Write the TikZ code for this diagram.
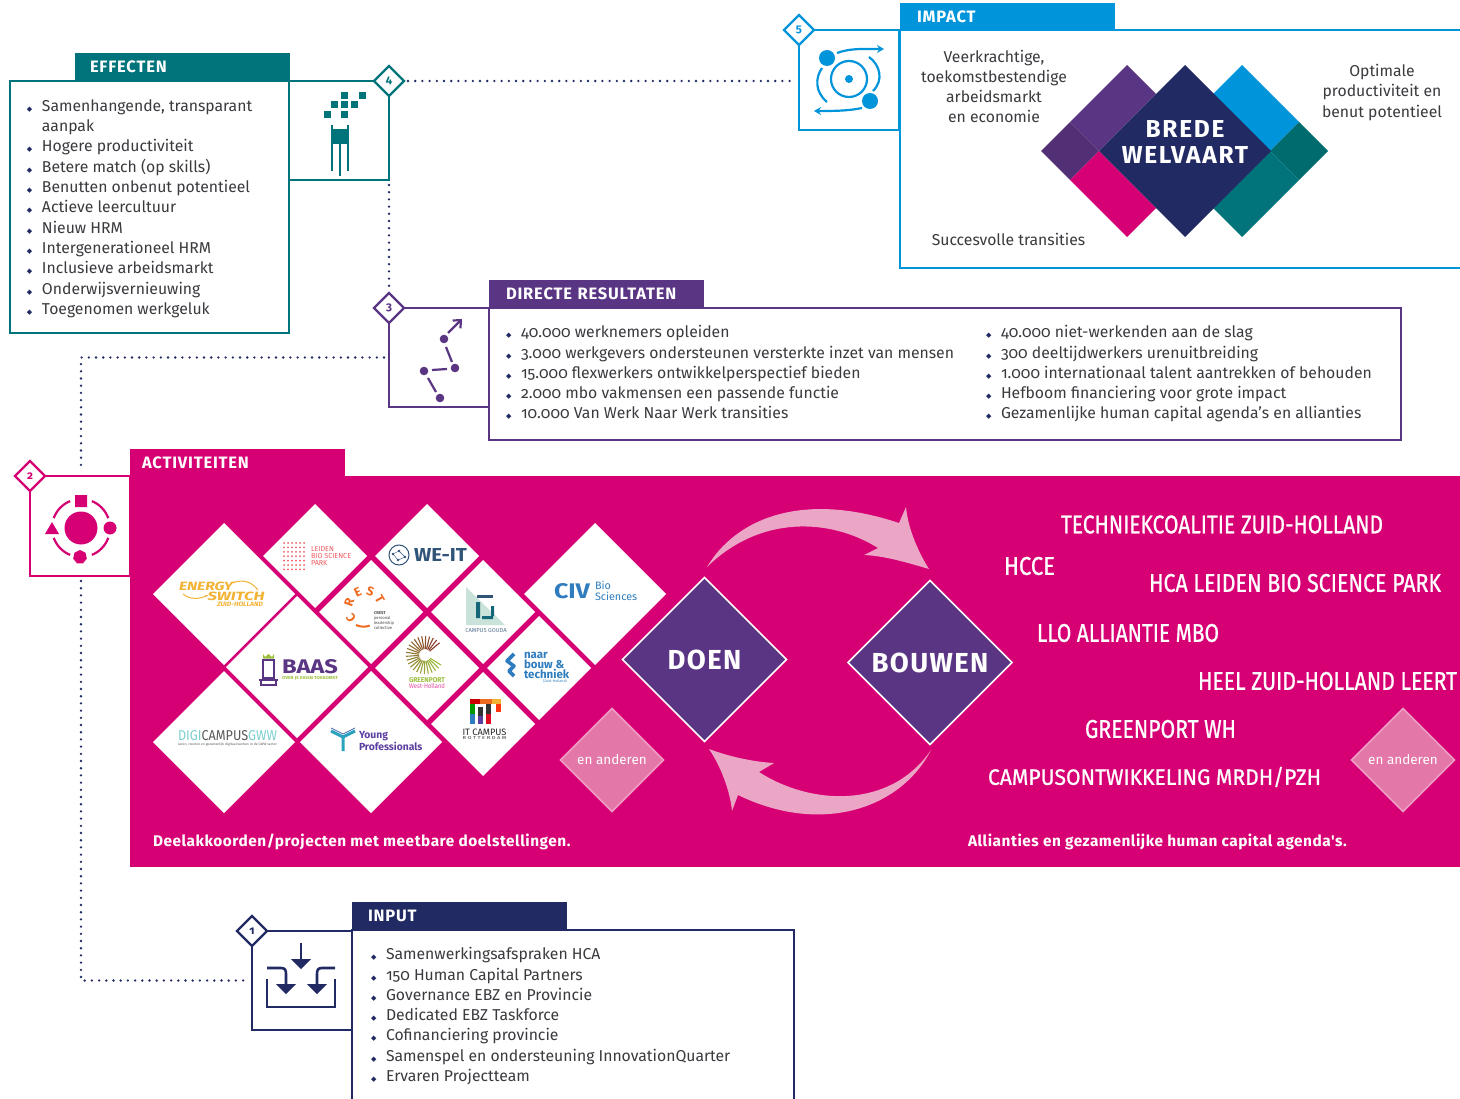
\documentclass[tikz,border=0pt]{standalone}
\usepackage{fontspec}
\usepackage{graphicx}
\setmainfont{Fira Sans}[Numbers=OldStyle]
\newfontfamily\hdf{Fira Sans}[LetterSpace=5]
\newfontfamily\wbf{Fira Sans}[LetterSpace=3.4]
\newfontfamily\wlf{Fira Sans}[LetterSpace=7]
\newfontfamily\condf{Fira Sans}[FakeBold=0.9]
\newfontfamily\dvf{DejaVu Sans}
\usetikzlibrary{arrows.meta,shapes.geometric,calc}
\definecolor{teal1}{HTML}{00747A}
\definecolor{teal2}{HTML}{006B6E}
\definecolor{blue1}{HTML}{0095DB}
\definecolor{purp1}{HTML}{5A3583}
\definecolor{purp2}{HTML}{532F75}
\definecolor{pink1}{HTML}{D60074}
\definecolor{navy1}{HTML}{212A63}
\definecolor{txt}{HTML}{3A3A3F}
\definecolor{apink}{HTML}{EBA6C6}
\definecolor{anfill}{HTML}{E377A8}
\definecolor{anline}{HTML}{EC9EC4}
\definecolor{ored}{HTML}{EE6A1F}
\definecolor{lred}{HTML}{EE5A5F}
\definecolor{ylw}{HTML}{F2B234}
\definecolor{wblue}{HTML}{2F5478}
\definecolor{cblue}{HTML}{2F7DBE}
\definecolor{ggreen}{HTML}{9CBF3C}
\definecolor{gbrown}{HTML}{8A3A2A}
\definecolor{ltgrn}{HTML}{C9E3DA}
\definecolor{ypurp}{HTML}{5B3FA0}
\definecolor{yteal}{HTML}{2AA3BE}
\definecolor{dteal}{HTML}{7CCFD0}
\newcommand\bul{\makebox[15pt][l]{\textcolor{navy1}{\dvf\fontsize{7}{7}\selectfont ◆}}}
\newcommand\nobul{\hspace*{15pt}}
\tikzset{
  x=1pt,y=-1pt,outer sep=0pt,
  listnode/.style={anchor=north west,inner sep=0pt,align=left,text=txt,font=\fontsize{15.75}{20.3}\selectfont},
  ctrnode/.style={inner sep=0pt,align=center,text=txt,font=\fontsize{15.75}{20.3}\selectfont},
  header/.style={anchor=north west,minimum width=215pt,minimum height=28pt,text width=215pt,inner sep=0pt,text=white,font=\hdf\bfseries\fontsize{16.5}{18}\selectfont,align=left},
  iconbox/.style={draw,line width=2.4pt,fill=white,minimum width=100pt,minimum height=99pt,inner sep=0pt},
  numdia/.style={diamond,draw,line width=2.4pt,fill=white,minimum width=30pt,minimum height=30pt,inner sep=0pt,font=\bfseries\fontsize{11.5}{12}\selectfont},
  dots/.style={navy1,line width=2.6pt,line cap=round,dash pattern=on 0pt off 7.2pt},
  lgdia/.style={diamond,fill=white,inner sep=0pt,aspect=1,minimum width=142pt,minimum height=142pt},
  smdia/.style={diamond,fill=white,inner sep=0pt,aspect=1,minimum width=104pt,minimum height=104pt},
  andia/.style={diamond,fill=anfill,draw=anline,line width=1.5pt,inner sep=0pt,minimum width=103pt,minimum height=103pt,text=white,font=\fontsize{13.5}{14}\selectfont},
  actdia/.style={diamond,fill=purp1,draw=white,line width=1.5pt,inner sep=0pt,minimum width=164pt,minimum height=164pt,text=white,font=\hdf\bfseries\fontsize{27.5}{28}\selectfont},
  condnode/.style={anchor=west,inner sep=0pt,text=white},
  whitebold/.style={anchor=west,inner sep=0pt,text=white,font=\wbf\bfseries\fontsize{15.4}{16}\selectfont},
  tiny/.style={inner sep=0pt,align=left}
}
\newcommand\cond[2]{\resizebox{#1pt}{18pt}{\condf #2}}
\begin{document}
\begin{tikzpicture}
\useasboundingbox (0,0) rectangle (1460,1099);
\fill[white] (0,0) rectangle (1460,1099);

% ---------- icon boxes and number diamonds
\node[iconbox,draw=teal1,anchor=north west] (icon4) at (289,81) {};
\node[iconbox,draw=blue1,anchor=north west,minimum height=100pt] (icon5) at (799,30) {};
\node[iconbox,draw=purp1,anchor=north west] (icon3) at (389,308) {};
\node[iconbox,draw=pink1,anchor=north west,minimum height=100pt] (icon2) at (30,476) {};
\node[iconbox,draw=navy1,anchor=north west] (icon1) at (252,931) {};
\node[numdia,draw=teal1,text=teal1] (d4) at (389,81) {4};
\node[numdia,draw=blue1,text=blue1] (d5) at (799,30) {5};
\node[numdia,draw=purp1,text=purp1] (d3) at (389,308) {3};
\node[numdia,draw=pink1,text=pink1] (d2) at (30,476) {2};
\node[numdia,draw=navy1,text=navy1] (d1) at (252,931) {1};
\draw[dots,shorten <=4pt,shorten >=4pt] (d4.east) -- (d4.east -| icon5.west);
\draw[dots,shorten <=5pt,shorten >=4pt] (icon4.south east) -- (d3.north);
\draw[dots,shorten <=5pt,shorten >=6pt] (icon3.west) -| (81,476);
\draw[dots,shorten <=5pt,shorten >=6pt] (81,576) |- (icon1.west);

% ---------- EFFECTEN
\node[draw=teal1,line width=2.4pt,fill=white,anchor=north west,minimum width=279pt,minimum height=252pt,inner sep=0pt] (effbox) at (10,81) {};
\node[header,fill=teal1] (effhead) at (75,53) {\hspace*{15pt}EFFECTEN};
\node[listnode] (efflist) at (27,99.5) {\bul Samenhangende, transparant\\\nobul aanpak\\\bul Hogere productiviteit\\\bul Betere match (op skills)\\\bul Benutten onbenut potentieel\\\bul Actieve leercultuur\\\bul Nieuw HRM\\\bul Intergenerationeel HRM\\\bul Inclusieve arbeidsmarkt\\\bul Onderwijsvernieuwing\\\bul Toegenomen werkgeluk};
% effect icon
\foreach \cx/\cy in {344/96,362/96,334/105,344/105,354/105,327/115,344/115}
  \fill[teal1] (\cx-3.5,\cy-3.5) rectangle (\cx+3.5,\cy+3.5);
\fill[teal1] (331,129) rectangle (348,144);
\draw[teal1,line width=1.6pt] (332,125) -- (332,171) (348,125) -- (348,171) (340,144) -- (340,176);

% ---------- IMPACT
\draw[blue1,line width=2.4pt,fill=white] (1460,30) -- (900,30) -- (900,268) -- (1460,268);
\node[header,fill=blue1,minimum height=27pt] (imphead) at (900,3) {\hspace*{17pt}IMPACT};
% impact icon
\fill[blue1] (827,58) circle[radius=8pt] (870,101) circle[radius=8pt] (849,79) circle[radius=4pt];
\draw[blue1,line width=2.2pt] (849,79) circle[radius=18pt];
\draw[blue1,line width=2.2pt,-{Stealth[length=7pt,width=8pt]}] (837,53) .. controls (850,48) and (865,49) .. (884,49);
\draw[blue1,line width=2.2pt,-{Stealth[length=7pt,width=8pt]}] (862,108) .. controls (848,111) and (833,111) .. (814,111);
\draw[blue1,line width=2.2pt] (822,68) .. controls (815,78) and (815,92) .. (827,102);
\draw[blue1,line width=2.2pt] (869,57) .. controls (880,65) and (884,80) .. (873,91);
% brede welvaart
\fill[purp1] (1070,122) -- (1127,65) -- (1156,94) -- (1099,151) -- cycle;
\fill[purp2] (1041,151) -- (1070,122) -- (1099,151) -- (1070,180) -- cycle;
\fill[pink1] (1099,151) -- (1070,180) -- (1127,237) -- (1156,208) -- cycle;
\fill[blue1] (1213,94) -- (1242,65) -- (1299,122) -- (1270,151) -- cycle;
\fill[teal2] (1270,151) -- (1299,122) -- (1328,151) -- (1299,180) -- cycle;
\fill[teal1] (1270,151) -- (1299,180) -- (1242,237) -- (1213,208) -- cycle;
\node[diamond,fill=navy1,inner sep=0pt,minimum width=172pt,minimum height=172pt] (welv) at (1185,151) {};
\node[inner sep=0pt,text=white,align=center,font=\wlf\bfseries\fontsize{24.5}{25.5}\selectfont] (welvt) at (1185,142) {BREDE\\WELVAART};
\node[ctrnode] (imp1) at (994,86.5) {Veerkrachtige,\\toekomstbestendige\\arbeidsmarkt\\en economie};
\node[ctrnode] (imp2) at (1382,92.5) {Optimale\\productiviteit en\\benut potentieel};
\node[ctrnode] (imp3) at (1008.5,239) {Succesvolle transities};

% ---------- DIRECTE RESULTATEN
\node[draw=purp1,line width=2.4pt,fill=white,anchor=north west,minimum width=912pt,minimum height=132pt,inner sep=0pt] (dirbox) at (489,308) {};
\node[header,fill=purp1] (dirhead) at (489,280) {\hspace*{17pt}DIRECTE RESULTATEN};
\node[listnode] (dirl1) at (506,325.5) {\bul 40.000 werknemers opleiden\\\bul 3.000 werkgevers ondersteunen versterkte inzet van mensen\\\bul 15.000 flexwerkers ontwikkelperspectief bieden\\\bul 2.000 mbo vakmensen een passende functie\\\bul 10.000 Van Werk Naar Werk transities};
\node[listnode] (dirl2) at (986,325.5) {\bul 40.000 niet-werkenden aan de slag\\\bul 300 deeltijdwerkers urenuitbreiding\\\bul 1.000 internationaal talent aantrekken of behouden\\\bul Hefboom financiering voor grote impact\\\bul Gezamenlijke human capital agenda's en allianties};
% icon 3
\fill[purp1] (444,339) circle[radius=4.3pt] (455,368) circle[radius=4.3pt] (424,371) circle[radius=4.3pt] (440,398) circle[radius=4.3pt];
\draw[purp1,line width=2.2pt,-{Straight Barb[length=6pt,width=11pt]}] (448,333) -- (462,319);
\draw[purp1,line width=2.2pt] (446,347) -- (452,362) (432,370) -- (447,369) (428,378) -- (436,392);

% ---------- ACTIVITEITEN
\fill[pink1] (130,476) rectangle (1460,867);
\node[header,fill=pink1] (acthead) at (130,449) {\hspace*{12pt}ACTIVITEITEN};
% icon 2
\fill[pink1] (81,528) circle[radius=16.5pt] (110,528) circle[radius=6.5pt] (75,495) rectangle (87,507);
\fill[pink1] (52,522) -- (59,534) -- (45,534) -- cycle;
\node[regular polygon,regular polygon sides=7,fill=pink1,minimum size=14pt,inner sep=0pt] (hept) at (80,557) {};
\foreach \a/\b in {20/68,112/160,200/248,292/340}
  \draw[pink1,line width=2.2pt] ({81+29*cos(\a)},{528-29*sin(\a)}) arc[start angle=\a,end angle=\b,radius=29pt];

% logo diamonds
\node[lgdia] (energy) at (224,594) {};
\node[smdia] (leiden) at (315,556) {};
\node[smdia] (weit) at (427,556) {};
\node[smdia] (crest) at (371,612) {};
\node[smdia] (gouda) at (483,612) {};
\node[lgdia] (civ) at (595,594) {};
\node[lgdia] (baas) at (297,667) {};
\node[smdia] (greenp) at (427,668) {};
\node[smdia] (bouw) at (539,668) {};
\node[smdia] (itc) at (483,724) {};
\node[lgdia] (digi) at (224,742) {};
\node[lgdia] (young) at (371,742) {};

% energy switch logo
\node[tiny,text=ylw] (en1) at (206,586) {\resizebox{54pt}{8.5pt}{\bfseries\itshape ENERGY}};
\node[tiny,text=ylw] (en2) at (236,596) {\resizebox{57pt}{8.5pt}{\bfseries\itshape SWITCH}};
\node[tiny,text=ylw] (en3) at (240,604) {\resizebox{46pt}{4.5pt}{\bfseries\itshape ZUID-HOLLAND}};
\draw[ylw,line width=1pt,-{Stealth[length=3pt]}] (258,590) .. controls (250,580) and (242,580) .. (232,583);
\draw[ylw,line width=1pt,-{Stealth[length=3pt]}] (183,594) .. controls (190,600) and (200,599) .. (208,595);
% leiden logo
\foreach \i in {0,...,5} \foreach \j in {0,...,6}
  \fill[lred] (284+\i*4,543+\j*4.4) circle[radius=1pt];
\node[tiny,text=lred,font=\fontsize{7.2}{7.3}\selectfont,anchor=west] (leidt) at (311,556) {LEIDEN\\BIO SCIENCE\\PARK};
% we-it logo
\draw[wblue,line width=1pt] (399,555) circle[radius=10pt];
\fill[wblue] (393,554) circle[radius=1.3pt] (399,551) circle[radius=1.3pt] (405,557) circle[radius=1.3pt] (398,560) circle[radius=1.3pt];
\draw[wblue,line width=.4pt] (393,554) -- (399,551) -- (405,557) -- (398,560) -- cycle;
\node[tiny,text=wblue,anchor=west] (weitt) at (414,555) {\resizebox{53pt}{13pt}{\bfseries WE-IT}};
% crest logo
\foreach \l/\a/\n in {C/215/1,R/160/2,E/115/3,S/72/4,T/30/5}
  \node[text=ored,inner sep=0pt,font=\bfseries\fontsize{12.5}{13}\selectfont,rotate=\a-90] (cr\n) at ({365+17*cos(\a)},{608-17*sin(\a)}) {\l};
\draw[ored,line width=2pt] (356,625) arc[start angle=245,end angle=290,radius=18pt];
\node[tiny,text=black!70,anchor=north west,font=\fontsize{4.2}{4.7}\selectfont] (crt) at (374,612) {\textbf{CREST}\\personal\\leadership\\collective};
% campus gouda
\fill[ltgrn] (466,587) -- (466,625) -- (505,625) -- cycle;
\fill[wblue] (477,595) -- (493,595) -- (493,598) -- (477,598) -- cycle;
\fill[teal1!60!wblue] (476,602) rectangle (480,618) (482,616) rectangle (493,619) (491,606) rectangle (494,616);
\node[tiny,text=wblue!80,font=\fontsize{5.8}{6}\selectfont] (goudat) at (486,631) {CAMPUS GOUDA};
% civ
\node[tiny,text=cblue,anchor=west] (civt) at (554,591) {\resizebox{36pt}{15pt}{\bfseries CIV}};
\node[tiny,text=cblue,anchor=west,font=\fontsize{10.8}{10.5}\selectfont] (civb) at (595,591) {Bio\\Sciences};
% baas
\draw[purp1,line width=1.3pt] (263,660) rectangle (274,678) (259,680) -- (278,680) (261,680) -- (261,686) (276,680) -- (276,686) (261,685) -- (276,685);
\fill[ggreen] (263,654) -- (265,657) -- (268.5,654) -- (272,657) -- (274,654) -- (274,658.5) -- (263,658.5) -- cycle;
\node[tiny,text=purp1,anchor=west] (baast) at (282,666.5) {\resizebox{56pt}{14pt}{\bfseries BAAS}};
\node[tiny,text=ggreen,anchor=west] (baass) at (282,678) {\resizebox{56pt}{3pt}{\bfseries OVER JE EIGEN TOEKOMST}};
% greenport
\foreach \a in {40,52,...,330}{
  \pgfmathsetmacro\p{(\a-40)/2.9}
  \draw[ggreen!\p!gbrown,line width=1.1pt] ({425+6*cos(\a)},{655-6*sin(\a)}) -- ({425+19*cos(\a)},{655-19*sin(\a)});
}
\node[tiny,text=ggreen,anchor=center] (gpa) at (427,680) {\resizebox{36pt}{5pt}{\bfseries GREENPORT}};
\node[tiny,text=pink1!70,anchor=center] (gpb) at (427,686.5) {\resizebox{36pt}{5pt}{West-Holland}};
% naar bouw
\draw[cblue,line width=3.6pt,line join=round] (514,654) -- (507,661) -- (514,666) -- (509,671) -- (514,676);
\node[tiny,text=cblue,anchor=north west,font=\bfseries\fontsize{11.5}{8.2}\selectfont] (bouwt) at (524,652) {naar\\bouw \&\\techniek};
\node[tiny,text=cblue,font=\fontsize{3.6}{4}\selectfont] (bouwz) at (555,681.5) {(Zuid-Holland)};
% it campus
\fill[red!80!black] (470,699) rectangle (480,704);
\fill[ored] (480,699) rectangle (492,704);
\fill[ylw] (492,699) rectangle (501,704);
\fill[red!70!ylw] (496,704) rectangle (501,712);
\fill[green!60!black] (470,704) rectangle (475,714);
\fill[cblue] (470,714) rectangle (475,724);
\fill[black!80] (478,707) rectangle (483,716);
\fill[ypurp] (478,716) rectangle (483,724);
\fill[black!80] (486,704) rectangle (491,714);
\fill[red!80!ypurp] (486,714) rectangle (491,724);
\node[tiny,text=black!85] (itt1) at (484.5,732) {\resizebox{44pt}{6.5pt}{IT CAMPUS}};
\node[tiny,text=black!80] (itt2) at (484.5,738.5) {\resizebox{44pt}{3pt}{R O T T E R D A M}};
% digicampus
\node[tiny,anchor=west] (digit) at (178,736) {\resizebox{99pt}{10pt}{\textcolor{dteal}{DIGI}\textcolor{black!65}{CAMPUS}\textcolor{dteal}{GWW}}};
\node[tiny,text=black!65,anchor=west] (digis) at (178,745) {\resizebox{99pt}{2.6pt}{Leren, creeren en gezamenlijk digitaal werken in de GWW sector}};
% young
\draw[yteal,line width=3pt,line join=round] (331,731) -- (343,737) -- (355,731) (343,737) -- (343,751);
\draw[ypurp!60!yteal,line width=.8pt] (331,728) -- (343,734) -- (355,728);
\node[tiny,text=ypurp,anchor=west,font=\bfseries\fontsize{10.3}{8.2}\selectfont] (yt) at (359,741) {Young\\Professionals};

% en anderen
\node[andia] (an1) at (612,760) {en anderen};
\node[andia] (an2) at (1403,760) {en anderen};

% arrows
\fill[apink] (707,567) .. controls (735,520) and (800,490) .. (899,523) -- (906,507) .. controls (908,530) and (920,555) .. (929,569) .. controls (905,562) and (885,556) .. (864,555) -- (878,548) .. controls (830,518) and (760,515) .. (707,567) -- cycle;
\fill[apink] (931,750) .. controls (900,810) and (820,835) .. (738,795) -- (732,811) .. controls (730,790) and (720,765) .. (709,749) .. controls (730,757) and (755,762) .. (774,763) -- (759,772) .. controls (810,805) and (890,810) .. (931,750) -- cycle;
\node[actdia] (doen) at (704.5,659.5) {DOEN};
\node[actdia] (bouwen) at (930,662.5) {BOUWEN};

% condensed labels
\node[condnode] (l1) at (1061,524.5) {\cond{322}{TECHNIEKCOALITIE ZUID-HOLLAND}};
\node[condnode] (l2) at (1004,566) {\cond{51}{HCCE}};
\node[condnode] (l3) at (1149,583) {\cond{292}{HCA LEIDEN BIO SCIENCE PARK}};
\node[condnode] (l4) at (1037,633) {\cond{182}{LLO ALLIANTIE MBO}};
\node[condnode] (l5) at (1198,681) {\cond{259}{HEEL ZUID-HOLLAND LEERT}};
\node[condnode] (l6) at (1085,729) {\cond{151}{GREENPORT WH}};
\node[condnode] (l7) at (988,777) {\cond{333}{CAMPUSONTWIKKELING MRDH/PZH}};
\node[whitebold] (b1) at (153,842) {Deelakkoorden/projecten met meetbare doelstellingen.};
\node[whitebold] (b2) at (968,842) {Allianties en gezamenlijke human capital agenda's.};

% ---------- INPUT
\draw[navy1,line width=2.4pt,fill=white] (352,1099) -- (352,930) -- (794,930) -- (794,1099);
\node[header,fill=navy1] (inphead) at (352,902) {\hspace*{16pt}INPUT};
\node[listnode] (inplist) at (371,947.5) {\bul Samenwerkingsafspraken HCA\\\bul 150 Human Capital Partners\\\bul Governance EBZ en Provincie\\\bul Dedicated EBZ Taskforce\\\bul Cofinanciering provincie\\\bul Samenspel en ondersteuning InnovationQuarter\\\bul Ervaren Projectteam};
% icon 1
\draw[navy1,line width=2.6pt] (301,943) -- (301,960);
\fill[navy1] (291,959) -- (311,959) -- (301,969) -- cycle;
\draw[navy1,line width=2.6pt] (267,968) -- (281,968) .. controls (285,968) and (286,970) .. (286,974) -- (286,985);
\fill[navy1] (276,984) -- (296,984) -- (286,994) -- cycle;
\draw[navy1,line width=2.6pt] (335,968) -- (322,968) .. controls (318,968) and (317,970) .. (317,974) -- (317,985);
\fill[navy1] (307,984) -- (327,984) -- (317,994) -- cycle;
\draw[navy1,line width=2.6pt] (267,979) -- (267,1007) -- (335,1007) -- (335,979);
\end{tikzpicture}
\end{document}
